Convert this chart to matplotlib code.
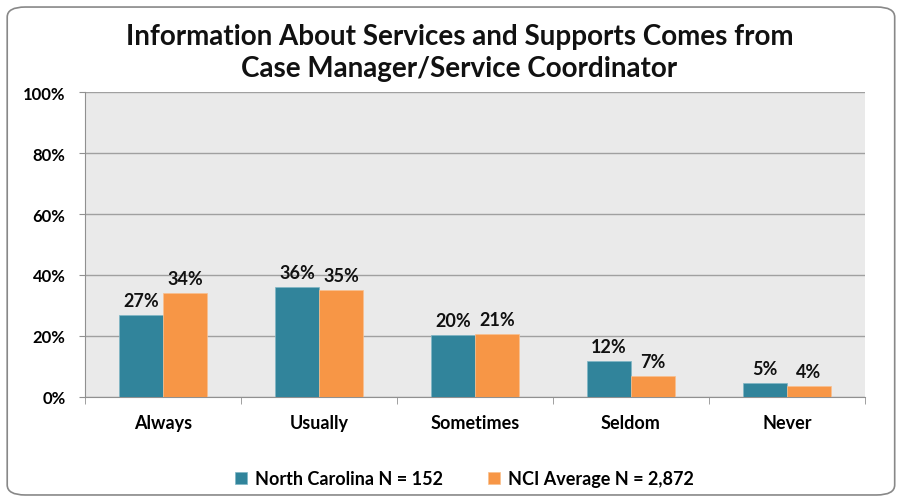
import matplotlib
matplotlib.use("Agg")
import matplotlib.pyplot as plt
import numpy as np
from matplotlib.patches import FancyBboxPatch

categories = ["Always", "Usually", "Sometimes", "Seldom", "Never"]
nc_values = [26.8, 36.0, 20.3, 11.8, 4.6]
nci_values = [34.0, 35.0, 20.7, 6.9, 3.6]
series_names = ["North Carolina N = 152", "NCI Average N = 2,872"]
yticks = [0, 20, 40, 60, 80, 100]
title = "Information About Services and Supports Comes from\nCase Manager/Service Coordinator"

plt.rcParams['font.family'] = ['Lato', 'DejaVu Sans']

fig = plt.figure(figsize=(9.01, 5.02), dpi=100)
fig.patch.set_facecolor("white")
border = FancyBboxPatch((0.008, 0.012), 0.985, 0.972, boxstyle="round,pad=0,rounding_size=0.02",
                        transform=fig.transFigure, facecolor="white", edgecolor="#888888",
                        linewidth=1.2, zorder=-5)
fig.patches.append(border)

ax = fig.add_axes([0.0943, 0.2072, 0.8657, 0.6075])
ax.set_zorder(2)
ax.set_facecolor("#EAEAEA")
x = np.arange(len(categories))
w = 0.282
b1 = ax.bar(x - w/2, nc_values, w, color="#31849B", label=series_names[0], zorder=3,
            edgecolor="#7FB6C6", linewidth=0.5)
b2 = ax.bar(x + w/2, nci_values, w, color="#F79646", label=series_names[1], zorder=3,
            edgecolor="#F9C08F", linewidth=0.5)
for bars, vals in ((b1, nc_values), (b2, nci_values)):
    for r, v in zip(bars, vals):
        ax.text(r.get_x() + r.get_width()/2, v + 2.0, f"{round(v):.0f}%", ha="center", va="bottom",
                fontsize=13, fontweight="bold", color="#111111")

ax.set_xlim(-0.5, len(categories) - 0.5)
ax.set_ylim(0, 100)
ax.set_yticks(yticks)
ax.set_yticklabels([f"{t}%" for t in yticks], fontsize=12, fontweight="bold")
ax.yaxis.grid(True, color="#A0A0A0", linewidth=1.0, zorder=0)
ax.set_axisbelow(True)
ax.set_xticks(x)
ax.set_xticklabels(categories, fontsize=13, fontweight="bold")
ax.tick_params(axis="x", length=0, pad=12)
ax.set_xticks(np.arange(-0.5, len(categories)), minor=True)
ax.tick_params(axis="x", which="minor", length=5, color="#909090")
ax.tick_params(axis="y", length=4, color="#909090", pad=10)
for s in ["top", "right"]:
    ax.spines[s].set_visible(False)
ax.spines["left"].set_color("#909090")
ax.spines["bottom"].set_color("#909090")

fig.text(0.51, 0.895, title, ha="center", va="center", fontsize=20, fontweight="bold",
         linespacing=1.3, color="#111111")

fig.legend(handles=[b1, b2], labels=series_names, loc="center", bbox_to_anchor=(0.515, 0.044),
           ncol=2, frameon=False, prop={"size": 13, "weight": "bold"}, handlelength=0.7,
           handleheight=0.7, columnspacing=2.5, handletextpad=0.4)

fig.savefig("out.png", dpi=100)
